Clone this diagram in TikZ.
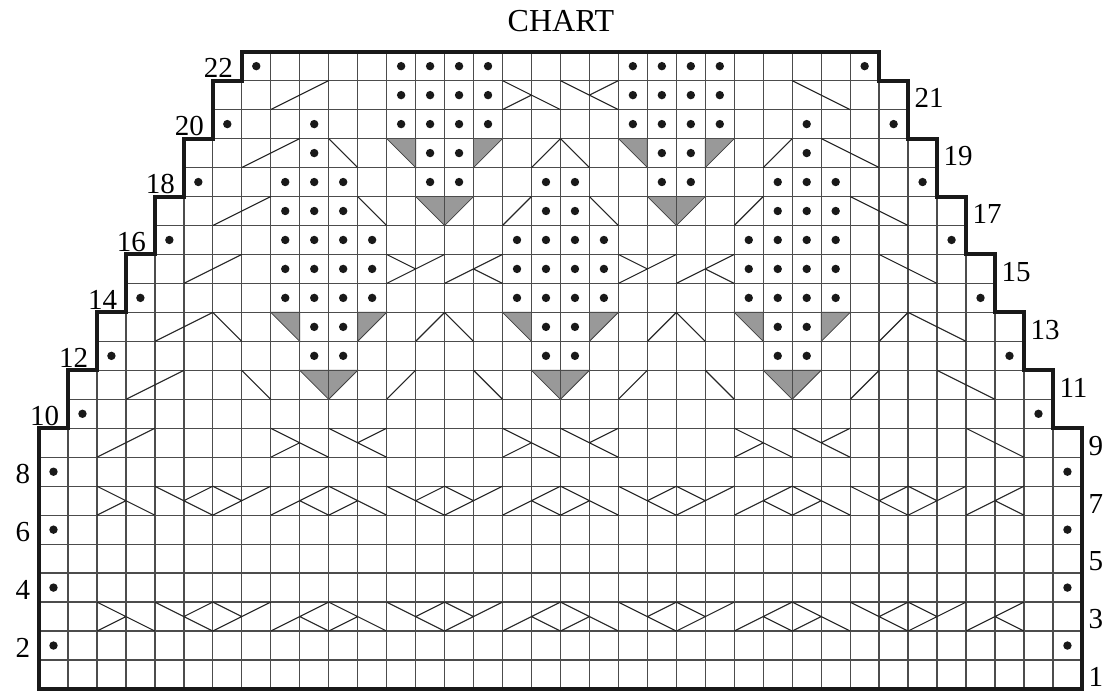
\documentclass[tikz,border=0pt]{standalone}
\usepackage{fontspec}
\setmainfont{Liberation Serif}
\tikzset{
  gridl/.style={draw=black!70, line width=1.3pt},
  pat/.style={draw=black!85, line width=1.1pt},
  tri/.style={fill=black!40, draw=black!75, line width=0.8pt},
  edge/.style={draw=black!90, line width=4pt, line join=miter},
  lab/.style={inner sep=0pt, font=\fontsize{29}{29}\selectfont},
}
\newcommand{\kfw}[3]{\draw[pat] (#1,#3-1) -- ++(#2,1);}
\newcommand{\kbk}[3]{\draw[pat] (#1,#3) -- ++(#2,-1);}
\newcommand{\kcA}[2]{\draw[pat] (#1,#2) -- ++(2,-1) (#1,#2-1) -- ++(1,0.5);}
\newcommand{\kcB}[2]{\draw[pat] (#1,#2) -- ++(2,-1) (#1+1,#2-0.5) -- ++(1,0.5);}
\newcommand{\kcC}[2]{\draw[pat] (#1,#2-1) -- ++(2,1) (#1+1,#2-0.5) -- ++(1,-0.5);}
\newcommand{\kcD}[2]{\draw[pat] (#1,#2-1) -- ++(2,1) (#1,#2) -- ++(1,-0.5);}
\newcommand{\kvt}[2]{\filldraw[tri] (#1,#2) -- (#1+2,#2) -- (#1+1,#2-1) -- cycle;}
\newcommand{\ktR}[2]{\filldraw[tri] (#1,#2) -- (#1+1,#2) -- (#1+1,#2-1) -- cycle;}
\newcommand{\ktL}[2]{\filldraw[tri] (#1,#2) -- (#1+1,#2) -- (#1,#2-1) -- cycle;}
\newcommand{\kdot}[2]{\fill[black!90] (#1+0.5,#2-0.5) circle[radius=0.145];}
\begin{document}
\begin{tikzpicture}[x=1pt,y=-1pt]
\useasboundingbox (0,0) rectangle (1110,698);
\node[font=\fontsize{32}{32}\selectfont, inner sep=0pt] (title) at (561,21) {CHART};
\begin{scope}[shift={(39,689)},x=28.97pt,y=28.97pt]
  % grey decrease triangles
  \kvt{9}{11} \kvt{17}{11} \kvt{25}{11}
  \ktR{8}{13} \ktL{11}{13} \ktR{16}{13} \ktL{19}{13} \ktR{24}{13} \ktL{27}{13}
  \kvt{13}{17} \kvt{21}{17}
  \ktR{12}{19} \ktL{15}{19} \ktR{20}{19} \ktL{23}{19}
  % grid
  \foreach \r in {1,...,22}{
    \pgfmathtruncatemacro{\k}{(\r<10)?0:floor((\r-8)/2)}
    \pgfmathtruncatemacro{\kk}{36-\k}
    \draw[gridl] (\k,\r) -- (\kk,\r);
    \foreach \i in {\k,...,\kk} \draw[gridl] (\i,\r-1) -- (\i,\r);
  }
  \draw[gridl] (0,0) -- (36,0);
  % cables rows 3 and 7
  \foreach \r in {3,7}{
    \foreach \i in {2,10,18,26}{
      \kcA{\i}{\r} \kcB{\i+2}{\r} \kcD{\i+4}{\r} \kcC{\i+6}{\r}
    }
  }
  % row 9
  \kfw{2}{2}{9} \kcA{8}{9} \kcB{10}{9} \kcA{16}{9} \kcB{18}{9} \kcA{24}{9} \kcB{26}{9} \kbk{32}{2}{9}
  % row 11
  \kfw{3}{2}{11} \kbk{7}{1}{11} \kfw{12}{1}{11} \kbk{15}{1}{11}
  \kfw{20}{1}{11} \kbk{23}{1}{11} \kfw{28}{1}{11} \kbk{31}{2}{11}
  % row 13
  \kfw{4}{2}{13} \kbk{6}{1}{13} \kfw{13}{1}{13} \kbk{14}{1}{13}
  \kfw{21}{1}{13} \kbk{22}{1}{13} \kfw{29}{1}{13} \kbk{30}{2}{13}
  % row 15
  \kfw{5}{2}{15} \kcD{12}{15} \kcC{14}{15} \kcD{20}{15} \kcC{22}{15} \kbk{29}{2}{15}
  % row 17
  \kfw{6}{2}{17} \kbk{11}{1}{17} \kfw{16}{1}{17} \kbk{19}{1}{17} \kfw{24}{1}{17} \kbk{28}{2}{17}
  % row 19
  \kfw{7}{2}{19} \kbk{10}{1}{19} \kfw{17}{1}{19} \kbk{18}{1}{19} \kfw{25}{1}{19} \kbk{27}{2}{19}
  % row 21
  \kfw{8}{2}{21} \kcA{16}{21} \kcB{18}{21} \kbk{26}{2}{21}
  % edge purl dots on even rows
  \foreach \r in {2,4,...,22}{
    \pgfmathtruncatemacro{\k}{(\r<10)?0:floor((\r-8)/2)}
    \pgfmathtruncatemacro{\kr}{35-\k}
    \kdot{\k}{\r} \kdot{\kr}{\r}
  }
  % inner purl dots
  \foreach \r/\js in {
    12/{9,10,17,18,25,26},
    13/{9,10,17,18,25,26},
    14/{8,9,10,11,16,17,18,19,24,25,26,27},
    15/{8,9,10,11,16,17,18,19,24,25,26,27},
    16/{8,9,10,11,16,17,18,19,24,25,26,27},
    17/{8,9,10,17,18,25,26,27},
    18/{8,9,10,13,14,17,18,21,22,25,26,27},
    19/{9,13,14,21,22,26},
    20/{9,12,13,14,15,20,21,22,23,26},
    21/{12,13,14,15,20,21,22,23},
    22/{12,13,14,15,20,21,22,23}}{
    \foreach \j in \js { \kdot{\j}{\r} }
  }
  % outline
  \draw[edge] (0,0) -- (36,0) -- (36,9) -- (35,9) -- (35,11) -- (34,11) -- (34,13)
    -- (33,13) -- (33,15) -- (32,15) -- (32,17) -- (31,17) -- (31,19) -- (30,19)
    -- (30,21) -- (29,21) -- (29,22) -- (7,22) -- (7,21) -- (6,21) -- (6,19)
    -- (5,19) -- (5,17) -- (4,17) -- (4,15) -- (3,15) -- (3,13) -- (2,13)
    -- (2,11) -- (1,11) -- (1,9) -- (0,9) -- cycle;
  % row numbers
  \foreach \r in {2,4,...,22}{
    \pgfmathtruncatemacro{\k}{(\r<10)?0:floor((\r-8)/2)}
    \node[lab, anchor=east] (L\r) at (\k-0.3,\r-0.57) {\r};
  }
  \foreach \r in {1,3,...,21}{
    \pgfmathtruncatemacro{\k}{(\r<10)?0:floor((\r-8)/2)}
    \node[lab, anchor=west] (R\r) at (36-\k+0.22,\r-0.6) {\r};
  }
\end{scope}
\end{tikzpicture}
\end{document}
